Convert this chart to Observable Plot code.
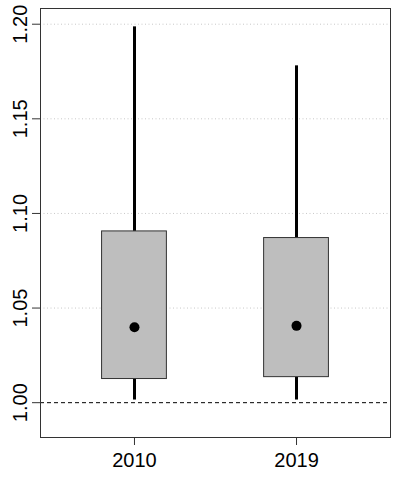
<!DOCTYPE html>
<html>
<head>
<meta charset="utf-8">
<script src="https://cdn.jsdelivr.net/npm/d3@7"></script>
<script src="https://cdn.jsdelivr.net/npm/@observablehq/plot@0.6"></script>
<style>
  html, body { margin: 0; padding: 0; background: #fff; }
</style>
</head>
<body>
<div id="chart"></div>
<script>
// Data
const years = ["2010", "2019"];
const lowerWhisker = [1.0014, 1.0014];
const q1 = [1.0125, 1.0135];
const center = [1.0399, 1.0406];
const q3 = [1.0905, 1.0870];
const upperWhisker = [1.1986, 1.1780];
const yTicks = [1.00, 1.05, 1.10, 1.15, 1.20];
const gridTicks = [1.05, 1.10, 1.15, 1.20];
const refLine = [1.00];

const rows = years.map((y, i) => ({
  pos: i + 1,
  year: y,
  lo: lowerWhisker[i],
  q1: q1[i],
  mid: center[i],
  q3: q3[i],
  hi: upperWhisker[i]
}));
const halfWidth = 0.2;

const chart = Plot.plot({
  width: 399,
  height: 478,
  marginLeft: 40,
  marginRight: 9,
  marginTop: 8,
  marginBottom: 41,
  style: { fontFamily: "'Liberation Sans', Arial, Helvetica, sans-serif", fontSize: "19px", background: "#fff", color: "#000" },
  x: { type: "linear", domain: [0.42, 2.58] },
  y: { domain: [0.9816, 1.2083] },
  marks: [
    Plot.ruleY(gridTicks, { stroke: "#c8c8c8", strokeWidth: 1, strokeDasharray: "1,2.5" }),
    Plot.ruleY(refLine, { stroke: "#000", strokeWidth: 1, strokeDasharray: "4,3" }),
    Plot.ruleX(rows, { x: "pos", y1: "q3", y2: "hi", stroke: "#000", strokeWidth: 3 }),
    Plot.ruleX(rows, { x: "pos", y1: "lo", y2: "q1", stroke: "#000", strokeWidth: 3 }),
    Plot.rect(rows, { x1: d => d.pos - halfWidth, x2: d => d.pos + halfWidth, y1: "q1", y2: "q3", fill: "#bebebe", stroke: "#333", strokeWidth: 1 }),
    Plot.dot(rows, { x: "pos", y: "mid", r: 5, fill: "#000", stroke: "none" }),
    Plot.frame({ stroke: "#333", strokeWidth: 1 }),
    Plot.axisY({ ticks: yTicks, tickFormat: d3.format(".2f"), tickSize: 8, tickPadding: 6, tickRotate: -90, fontSize: 20, label: null, stroke: "#333" }),
    Plot.axisX({ ticks: [1, 2], tickFormat: d => years[d - 1], tickSize: 8, tickPadding: 7, fontSize: 20, label: null, stroke: "#333" })
  ]
});
document.getElementById("chart").appendChild(chart);
</script>
</body>
</html>
